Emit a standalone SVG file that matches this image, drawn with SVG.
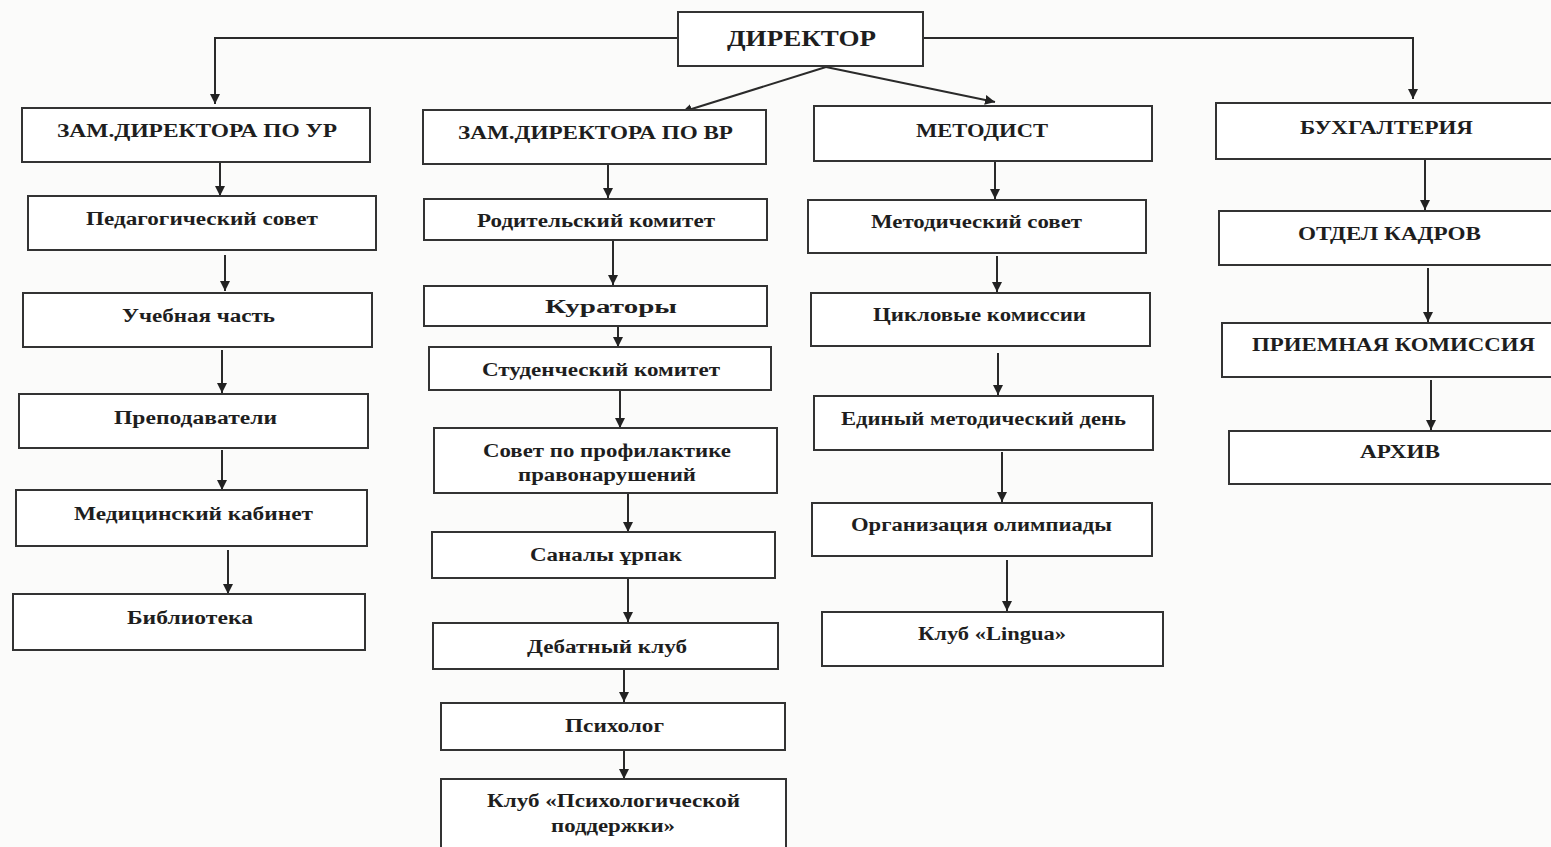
<svg xmlns="http://www.w3.org/2000/svg" width="1551" height="847" viewBox="0 0 1551 847">
<defs>
<marker id="ah" viewBox="0 0 10 10" refX="10" refY="5" markerWidth="10" markerHeight="10" markerUnits="userSpaceOnUse" orient="auto">
<path d="M0,0 L10,5 L0,10 Z" fill="#222"/>
</marker>
</defs>
<style>
.b{fill:#fff;stroke:#333;stroke-width:2}
.t{font-family:"Liberation Serif","DejaVu Serif",serif;font-weight:bold;font-size:18px;fill:#1e1e1e;text-anchor:start}
.h{font-size:19px}
.c{fill:none;stroke:#2a2a2a;stroke-width:2;marker-end:url(#ah)}
</style>
<rect x="0" y="0" width="1551" height="847" fill="#fbfbfa"/>
<g id="connectors">
<path class="c" d="M678,38 L215,38 L215,104"/>
<path class="c" d="M923,38 L1413,38 L1413,99"/>
<path class="c" d="M826,67 L682,112"/>
<path class="c" d="M826,67 L995,102"/>
<path class="c" d="M220,162 L220,196"/>
<path class="c" d="M225,255 L225,291"/>
<path class="c" d="M222,350 L222,393"/>
<path class="c" d="M222,450 L222,490"/>
<path class="c" d="M228,550 L228,594"/>
<path class="c" d="M608,164 L608,198"/>
<path class="c" d="M613,240 L613,285"/>
<path class="c" d="M618,326 L618,347"/>
<path class="c" d="M620,390 L620,428"/>
<path class="c" d="M628,493 L628,532"/>
<path class="c" d="M628,578 L628,622"/>
<path class="c" d="M624,669 L624,702"/>
<path class="c" d="M624,750 L624,779"/>
<path class="c" d="M995,161 L995,199"/>
<path class="c" d="M997,256 L997,292"/>
<path class="c" d="M998,353 L998,395"/>
<path class="c" d="M1002,452 L1002,502"/>
<path class="c" d="M1007,560 L1007,611"/>
<path class="c" d="M1425,159 L1425,210"/>
<path class="c" d="M1428,268 L1428,322"/>
<path class="c" d="M1431,380 L1431,430"/>
</g>
<g id="director"><rect class="b" x="678" y="12" width="245" height="54"/><text class="t" x="727" y="46" style="font-size:24px" textLength="149" lengthAdjust="spacingAndGlyphs">ДИРЕКТОР</text></g>
<g id="zam-ur"><rect class="b" x="22" y="108" width="348" height="54"/><text class="t h" x="57" y="137" textLength="280" lengthAdjust="spacingAndGlyphs">ЗАМ.ДИРЕКТОРА ПО УР</text></g>
<g id="ped-sovet"><rect class="b" x="28" y="196" width="348" height="54"/><text class="t" x="86" y="225" textLength="232" lengthAdjust="spacingAndGlyphs">Педагогический совет</text></g>
<g id="ucheb"><rect class="b" x="23" y="293" width="349" height="54"/><text class="t" x="122" y="322" textLength="153" lengthAdjust="spacingAndGlyphs">Учебная часть</text></g>
<g id="prepod"><rect class="b" x="19" y="394" width="349" height="54"/><text class="t" x="114" y="424" textLength="163" lengthAdjust="spacingAndGlyphs">Преподаватели</text></g>
<g id="med"><rect class="b" x="16" y="490" width="351" height="56"/><text class="t" x="74" y="520" textLength="239" lengthAdjust="spacingAndGlyphs">Медицинский кабинет</text></g>
<g id="biblio"><rect class="b" x="13" y="594" width="352" height="56"/><text class="t" x="127" y="624" textLength="126" lengthAdjust="spacingAndGlyphs">Библиотека</text></g>
<g id="zam-vr"><rect class="b" x="423" y="110" width="343" height="54"/><text class="t h" x="458" y="139" textLength="275" lengthAdjust="spacingAndGlyphs">ЗАМ.ДИРЕКТОРА ПО ВР</text></g>
<g id="rod-kom"><rect class="b" x="424" y="199" width="343" height="41"/><text class="t" x="477" y="227" textLength="238" lengthAdjust="spacingAndGlyphs">Родительский комитет</text></g>
<g id="kuratory"><rect class="b" x="424" y="286" width="343" height="40"/><text class="t" x="545" y="313" textLength="132" lengthAdjust="spacingAndGlyphs">Кураторы</text></g>
<g id="stud-kom"><rect class="b" x="429" y="347" width="342" height="43"/><text class="t" x="482" y="376" textLength="238" lengthAdjust="spacingAndGlyphs">Студенческий комитет</text></g>
<g id="sovet-prof"><rect class="b" x="434" y="428" width="343" height="65"/><text class="t" x="483" y="457" textLength="248" lengthAdjust="spacingAndGlyphs">Совет по профилактике</text><text class="t" x="518" y="481" textLength="178" lengthAdjust="spacingAndGlyphs">правонарушений</text></g>
<g id="sanaly"><rect class="b" x="432" y="532" width="343" height="46"/><text class="t" x="530" y="561" textLength="152" lengthAdjust="spacingAndGlyphs">Саналы ұрпак</text></g>
<g id="debat"><rect class="b" x="433" y="623" width="345" height="46"/><text class="t" x="527" y="653" textLength="160" lengthAdjust="spacingAndGlyphs">Дебатный клуб</text></g>
<g id="psiholog"><rect class="b" x="441" y="703" width="344" height="47"/><text class="t" x="565" y="732" textLength="99" lengthAdjust="spacingAndGlyphs">Психолог</text></g>
<g id="klub-psih"><rect class="b" x="441" y="779" width="345" height="75"/><text class="t" x="487" y="807" textLength="253" lengthAdjust="spacingAndGlyphs">Клуб «Психологической</text><text class="t" x="551" y="832" textLength="124" lengthAdjust="spacingAndGlyphs">поддержки»</text></g>
<g id="metodist"><rect class="b" x="814" y="106" width="338" height="55"/><text class="t h" x="916" y="137" textLength="132" lengthAdjust="spacingAndGlyphs">МЕТОДИСТ</text></g>
<g id="met-sovet"><rect class="b" x="808" y="200" width="338" height="53"/><text class="t" x="871" y="228" textLength="211" lengthAdjust="spacingAndGlyphs">Методический совет</text></g>
<g id="cikl"><rect class="b" x="811" y="293" width="339" height="53"/><text class="t" x="873" y="321" textLength="213" lengthAdjust="spacingAndGlyphs">Цикловые комиссии</text></g>
<g id="edin"><rect class="b" x="814" y="396" width="339" height="54"/><text class="t" x="841" y="425" textLength="285" lengthAdjust="spacingAndGlyphs">Единый методический день</text></g>
<g id="olimp"><rect class="b" x="812" y="503" width="340" height="53"/><text class="t" x="851" y="531" textLength="261" lengthAdjust="spacingAndGlyphs">Организация олимпиады</text></g>
<g id="lingua"><rect class="b" x="822" y="612" width="341" height="54"/><text class="t" x="918" y="640" textLength="148" lengthAdjust="spacingAndGlyphs">Клуб «Lingua»</text></g>
<g id="buh"><rect class="b" x="1216" y="103" width="350" height="56"/><text class="t h" x="1300" y="134" textLength="173" lengthAdjust="spacingAndGlyphs">БУХГАЛТЕРИЯ</text></g>
<g id="kadry"><rect class="b" x="1219" y="211" width="350" height="54"/><text class="t h" x="1298" y="240" textLength="183" lengthAdjust="spacingAndGlyphs">ОТДЕЛ КАДРОВ</text></g>
<g id="priem"><rect class="b" x="1222" y="323" width="350" height="54"/><text class="t h" x="1252" y="351" textLength="283" lengthAdjust="spacingAndGlyphs">ПРИЕМНАЯ КОМИССИЯ</text></g>
<g id="arhiv"><rect class="b" x="1229" y="431" width="350" height="53"/><text class="t h" x="1360" y="458" textLength="80" lengthAdjust="spacingAndGlyphs">АРХИВ</text></g>
</svg>
